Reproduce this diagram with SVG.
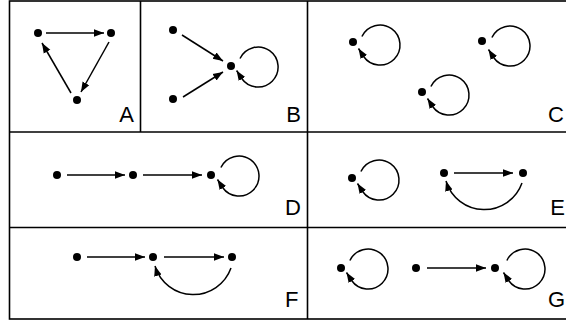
<svg xmlns="http://www.w3.org/2000/svg" width="566" height="322" viewBox="0 0 566 322">
<style>
.frame{fill:none;stroke:#000;stroke-width:1.6}
.e{fill:none;stroke:#000;stroke-width:1.5;marker-end:url(#ah)}
.n{fill:#000}
.lbl{font-family:"Liberation Sans",Arial,sans-serif;font-size:22px;fill:#000}
</style>
<defs>
<marker id="ah" markerUnits="userSpaceOnUse" markerWidth="10" markerHeight="10" viewBox="0 0 10 10" refX="10" refY="5" orient="auto">
<path d="M0,1.2 L10,5 L0,8.8 Z" fill="#000"/>
</marker>
</defs>
<g id="frame">
<rect class="frame" x="9.5" y="1" width="560" height="318"/>
<line class="frame" x1="9.5" y1="132" x2="570" y2="132"/>
<line class="frame" x1="9.5" y1="227.5" x2="570" y2="227.5"/>
<line class="frame" x1="140.5" y1="1" x2="140.5" y2="132"/>
<line class="frame" x1="307.5" y1="1" x2="307.5" y2="319"/>
</g>
<g id="connectors">
<path class="e" d="M46,33 L104,33"/>
<path class="e" d="M109,42 L81,92"/>
<path class="e" d="M71,93 L42,43"/>
<path class="e" d="M182,35 L223,61"/>
<path class="e" d="M183,97 L223,72"/>
<path class="e" d="M240,58.5 A20,20 0 1 1 241.7,78.5 L236.6,70.5"/>
<path class="e" d="M361.9,36.5 A20,20 0 1 1 363.6,56.5 L358.5,48.5"/>
<path class="e" d="M491.9,37.5 A20,20 0 1 1 493.6,57.5 L488.5,49.5"/>
<path class="e" d="M430.9,86.5 A20,20 0 1 1 432.6,106.5 L427.5,98.5"/>
<path class="e" d="M67,175 L125,175"/>
<path class="e" d="M143,175 L202,175"/>
<path class="e" d="M220.9,167.5 A20,20 0 1 1 222.6,187.5 L217.5,179.5"/>
<path class="e" d="M360.9,171.5 A20,20 0 1 1 362.6,191.5 L357.5,183.5"/>
<path class="e" d="M454,173 L513,173"/>
<path class="e" d="M522,183 A40,40 0 0 1 446,181"/>
<path class="e" d="M87,257 L145,257"/>
<path class="e" d="M164,257 L224,257"/>
<path class="e" d="M231,268 A40,40 0 0 1 155,266"/>
<path class="e" d="M349.9,260.5 A20,20 0 1 1 351.6,280.5 L346.5,272.5"/>
<path class="e" d="M427,268 L486,268"/>
<path class="e" d="M506.9,260.5 A20,20 0 1 1 508.6,280.5 L503.5,272.5"/>
</g>
<g id="panel-A">
<circle class="n" cx="38" cy="33" r="4"/>
<circle class="n" cx="111" cy="33" r="4"/>
<circle class="n" cx="77" cy="100" r="4"/>
<text class="lbl" x="134" y="122" text-anchor="end">A</text>
</g>
<g id="panel-B">
<circle class="n" cx="173" cy="30" r="4"/>
<circle class="n" cx="173" cy="99" r="4"/>
<circle class="n" cx="231" cy="66" r="4"/>
<text class="lbl" x="301" y="122" text-anchor="end">B</text>
</g>
<g id="panel-C">
<circle class="n" cx="353" cy="42" r="4"/>
<circle class="n" cx="482" cy="41" r="4"/>
<circle class="n" cx="422" cy="92" r="4"/>
<text class="lbl" x="564" y="122" text-anchor="end">C</text>
</g>
<g id="panel-D">
<circle class="n" cx="57" cy="175" r="4"/>
<circle class="n" cx="133" cy="175" r="4"/>
<circle class="n" cx="211" cy="175" r="4"/>
<text class="lbl" x="301" y="215" text-anchor="end">D</text>
</g>
<g id="panel-E">
<circle class="n" cx="352" cy="178" r="4"/>
<circle class="n" cx="444" cy="173" r="4"/>
<circle class="n" cx="523" cy="173" r="4"/>
<text class="lbl" x="565" y="215" text-anchor="end">E</text>
</g>
<g id="panel-F">
<circle class="n" cx="77" cy="257" r="4"/>
<circle class="n" cx="153" cy="257" r="4"/>
<circle class="n" cx="232" cy="257" r="4"/>
<text class="lbl" x="285" y="307">F</text>
</g>
<g id="panel-G">
<circle class="n" cx="341" cy="268" r="4"/>
<circle class="n" cx="416" cy="268" r="4"/>
<circle class="n" cx="495" cy="268" r="4"/>
<text class="lbl" x="565" y="307" text-anchor="end">G</text>
</g>
</svg>
